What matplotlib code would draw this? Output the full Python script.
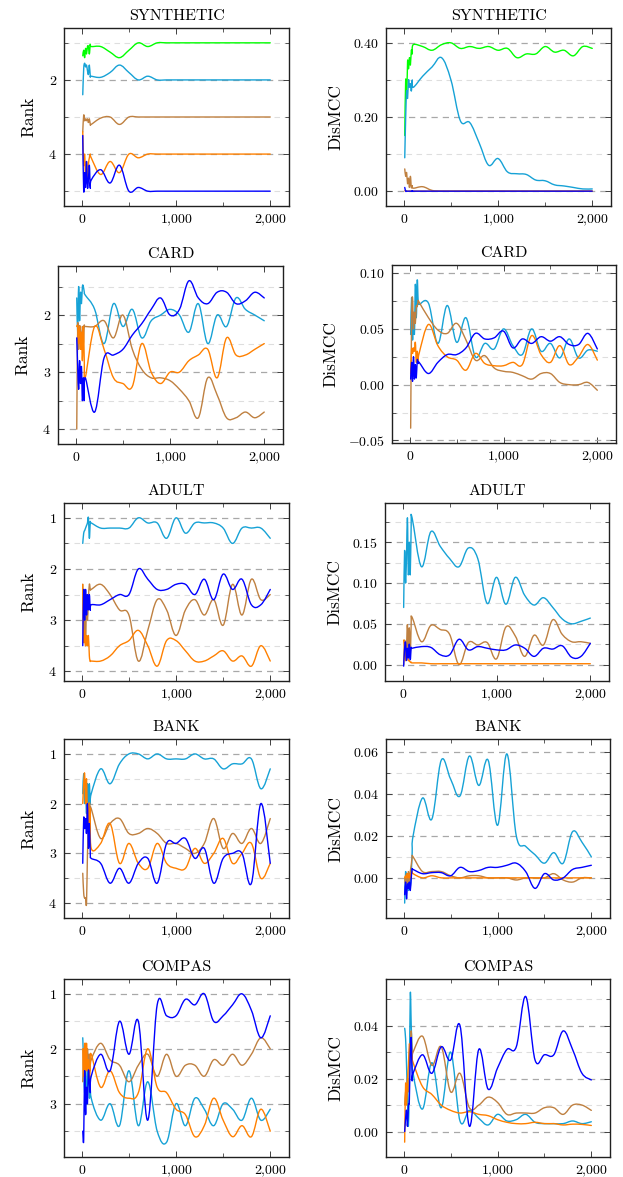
import matplotlib
matplotlib.use("Agg")
import matplotlib.pyplot as plt
import numpy as np
from matplotlib.path import Path
from matplotlib.patches import PathPatch
from matplotlib.ticker import MultipleLocator, FuncFormatter

plt.rcParams['font.family'] = 'cmr10'
plt.rcParams['mathtext.fontset'] = 'cm'
plt.rcParams['axes.formatter.use_mathtext'] = True

# x positions: every 10 up to 100, then every 100 up to 2000
steps = [10, 20, 30, 40, 50, 60, 70, 80, 90, 100, 200, 300, 400, 500, 600, 700, 800, 900, 1000,
         1100, 1200, 1300, 1400, 1500, 1600, 1700, 1800, 1900, 2000]

datasets = ["SYNTHETIC", "CARD", "ADULT", "BANK", "COMPAS"]

# ---- SYNTHETIC ----
syn_rank_green = [1.35, 1.2, 1.4, 1.15, 1.3, 1.1, 1.1, 1.3, 1.05, 1.1, 1.1, 1.25, 1.4, 1.2, 1.0, 1.1, 1.0, 1.0, 1.0,
                  1.0, 1.0, 1.0, 1.0, 1.0, 1.0, 1.0, 1.0, 1.0, 1.0]
syn_rank_cyan = [2.4, 1.7, 1.55, 1.65, 1.6, 1.75, 1.85, 1.6, 1.9, 1.9, 1.93, 1.8, 1.6, 1.8, 2.0, 1.9, 2.0, 2.0, 2.0,
                 2.0, 2.0, 2.0, 2.0, 2.0, 2.0, 2.0, 2.0, 2.0, 2.0]
syn_rank_brown = [3.4, 2.95, 3.1, 3.05, 3.1, 3.05, 3.15, 3.05, 3.2, 3.2, 3.03, 3.0, 3.2, 3.0, 3.0, 3.0, 3.0, 3.0, 3.0,
                  3.0, 3.0, 3.0, 3.0, 3.0, 3.0, 3.0, 3.0, 3.0, 3.0]
syn_rank_orange = [3.4, 4.3, 4.0, 4.6, 4.2, 4.8, 4.3, 4.1, 4.0, 4.1, 4.55, 4.2, 4.5, 4.0, 4.1, 4.0, 4.0, 4.0, 4.0,
                   4.0, 4.0, 4.0, 4.0, 4.0, 4.0, 4.0, 4.0, 4.0, 4.0]
syn_rank_blue = [3.5, 5.0, 4.5, 4.9, 4.2, 4.9, 4.7, 4.3, 4.9, 4.7, 4.42, 4.78, 4.3, 5.0, 4.9, 5.0, 5.0, 5.0, 5.0,
                 5.0, 5.0, 5.0, 5.0, 5.0, 5.0, 5.0, 5.0, 5.0, 5.0]

syn_mcc_green = [0.15, 0.30, 0.25, 0.35, 0.33, 0.36, 0.34, 0.38, 0.37, 0.395, 0.39, 0.38, 0.395, 0.40, 0.385, 0.39,
                 0.385, 0.39, 0.38, 0.385, 0.36, 0.37, 0.37, 0.39, 0.375, 0.38, 0.365, 0.39, 0.385]
syn_mcc_cyan = [0.09, 0.20, 0.27, 0.25, 0.30, 0.28, 0.29, 0.27, 0.30, 0.28, 0.31, 0.335, 0.36, 0.30, 0.19, 0.185,
                0.13, 0.07, 0.088, 0.052, 0.047, 0.045, 0.03, 0.028, 0.017, 0.014, 0.01, 0.006, 0.006]
syn_mcc_brown = [0.06, 0.04, 0.05, 0.02, 0.035, 0.01, 0.04, 0.01, 0.015, 0.008, 0.012, 0.002, 0.0, 0.0, 0.0, 0.0,
                 0.0, 0.0, 0.0, 0.0, 0.0, 0.0, 0.0, 0.0, 0.0, 0.0, 0.0, 0.0, 0.0]
syn_mcc_orange = [0.001, 0.001, 0.0, 0.0, 0.0, 0.0, 0.0, 0.0, 0.0, 0.0, 0.0, 0.0, 0.0, 0.0, 0.0, 0.0,
                  0.0, 0.0, 0.0, 0.0, 0.0, 0.0, 0.0, 0.0, 0.0, 0.0, 0.0, 0.0, 0.0]
syn_mcc_blue = [0.01, 0.0, 0.0, 0.0, 0.0, 0.0, 0.0, 0.0, 0.0, 0.0, 0.0, 0.0, 0.0, 0.0, 0.0, 0.0,
                0.0, 0.0, 0.0, 0.0, 0.0, 0.0, 0.0, 0.0, 0.0, 0.0, 0.0, 0.0, 0.0]

# ---- CARD ----
card_rank_cyan = [1.7, 2.3, 1.5, 2.1, 1.6, 1.8, 1.5, 1.5, 1.6, 1.65, 1.9, 2.5, 1.8, 2.2, 1.9, 2.4, 2.1, 2.0, 1.9,
                  2.0, 2.3, 1.8, 2.5, 2.0, 2.2, 1.7, 1.9, 2.0, 2.1]
card_rank_brown = [4.0, 2.2, 2.6, 2.2, 2.3, 2.6, 2.2, 2.5, 2.2, 2.2, 2.2, 2.1, 2.4, 2.0, 2.6, 2.95, 3.1, 3.1, 3.15,
                   3.3, 3.5, 3.8, 3.1, 3.4, 3.8, 3.8, 3.7, 3.8, 3.7]
card_rank_orange = [2.2, 2.2, 2.5, 2.2, 2.6, 2.3, 2.8, 2.2, 2.8, 3.1, 2.2, 2.6, 3.1, 3.2, 3.25, 2.5, 3.0, 3.2, 3.0,
                    3.0, 2.8, 2.7, 2.6, 3.1, 2.4, 2.7, 2.7, 2.6, 2.5]
card_rank_blue = [2.4, 2.9, 3.3, 2.8, 3.2, 2.9, 3.5, 3.1, 3.5, 3.1, 3.7, 2.75, 2.7, 2.6, 2.35, 2.15, 1.9, 1.7, 2.0,
                  1.9, 1.4, 1.7, 1.8, 1.6, 1.6, 1.8, 1.75, 1.6, 1.7]

card_mcc_cyan = [0.045, 0.078, 0.04, 0.065, 0.045, 0.09, 0.06, 0.094, 0.075, 0.072, 0.073, 0.037, 0.071, 0.038,
                 0.06, 0.025, 0.037, 0.032, 0.05, 0.035, 0.027, 0.05, 0.03, 0.037, 0.024, 0.041, 0.024, 0.031, 0.03]
card_mcc_brown = [-0.039, 0.06, 0.078, 0.05, 0.065, 0.055, 0.07, 0.07, 0.075, 0.074, 0.06, 0.049, 0.046, 0.055,
                  0.04, 0.022, 0.026, 0.015, 0.012, 0.011, 0.008, 0.005, 0.01, 0.01, 0.002, 0.0, 0.0, 0.002, -0.005]
card_mcc_orange = [0.01, 0.032, 0.028, 0.033, 0.03, 0.038, 0.02, 0.03, 0.02, 0.028, 0.054, 0.035, 0.025, 0.022,
                   0.013, 0.028, 0.019, 0.017, 0.017, 0.02, 0.018, 0.044, 0.027, 0.02, 0.035, 0.018, 0.025, 0.036, 0.022]
card_mcc_blue = [0.005, 0.02, 0.003, 0.025, 0.005, 0.018, 0.006, 0.022, 0.019, 0.02, 0.01, 0.02, 0.027, 0.027,
                 0.033, 0.046, 0.041, 0.042, 0.048, 0.033, 0.041, 0.037, 0.043, 0.039, 0.043, 0.036, 0.036, 0.046, 0.032]

# ---- ADULT ----
adult_rank_cyan = [1.5, 1.3, 1.25, 1.2, 1.15, 1.1, 1.0, 1.4, 1.1, 1.1, 1.2, 1.2, 1.2, 1.2, 1.0, 1.1, 1.1, 1.4, 1.0,
                   1.3, 1.1, 1.1, 1.1, 1.2, 1.5, 1.2, 1.2, 1.2, 1.4]
adult_rank_brown = [2.3, 3.3, 2.4, 3.5, 2.5, 3.0, 2.6, 2.3, 2.4, 2.4, 2.3, 2.5, 2.8, 2.9, 3.8, 3.2, 2.6, 2.8, 3.3,
                    2.8, 2.6, 2.9, 2.6, 3.1, 2.3, 2.9, 2.2, 2.6, 2.5]
adult_rank_orange = [2.3, 3.4, 3.2, 3.5, 3.3, 3.5, 3.3, 3.7, 3.8, 3.8, 3.8, 3.7, 3.5, 3.4, 3.2, 3.5, 3.9, 3.4, 3.4,
                     3.6, 3.8, 3.8, 3.7, 3.6, 3.8, 3.7, 3.9, 3.5, 3.8]
adult_rank_blue = [3.5, 2.4, 3.0, 2.4, 2.9, 2.5, 2.8, 2.5, 2.8, 2.7, 2.7, 2.6, 2.5, 2.5, 2.0, 2.2, 2.4, 2.4, 2.3,
                   2.3, 2.5, 2.2, 2.6, 2.1, 2.4, 2.2, 2.7, 2.7, 2.4]

adult_mcc_cyan = [0.07, 0.14, 0.10, 0.13, 0.18, 0.11, 0.15, 0.11, 0.17, 0.18, 0.12, 0.163, 0.145, 0.13, 0.12, 0.143,
                  0.13, 0.075, 0.107, 0.074, 0.107, 0.085, 0.073, 0.082, 0.07, 0.056, 0.05, 0.053, 0.057]
adult_mcc_brown = [0.0, 0.03, 0.01, 0.02, 0.049, 0.01, 0.045, 0.01, 0.05, 0.058, 0.028, 0.048, 0.043, 0.037, 0.0,
                   0.027, 0.024, 0.027, 0.007, 0.046, 0.035, 0.01, 0.036, 0.024, 0.055, 0.037, 0.028, 0.028, 0.026]
adult_mcc_orange = [0.03, 0.02, 0.005, 0.01, 0.01, 0.005, 0.005, 0.003, 0.003, 0.002, 0.002, 0.001, 0.001, 0.001,
                    0.001, 0.001, 0.001, 0.001, 0.001, 0.001, 0.001, 0.001, 0.001, 0.001, 0.001, 0.001, 0.001, 0.001, 0.001]
adult_mcc_blue = [-0.002, 0.02, 0.027, 0.005, 0.02, 0.008, 0.025, 0.006, 0.02, 0.02, 0.022, 0.021, 0.012, 0.012,
                  0.031, 0.018, 0.022, 0.02, 0.018, 0.018, 0.024, 0.02, 0.01, 0.02, 0.019, 0.023, 0.009, 0.01, 0.026]

# ---- BANK ----
bank_rank_cyan = [1.8, 1.4, 2.0, 1.7, 2.2, 1.6, 2.0, 1.6, 2.0, 1.8, 1.3, 1.6, 1.2, 1.0, 1.0, 1.1, 1.0, 1.1, 1.1,
                  1.1, 1.0, 1.1, 1.1, 1.3, 1.2, 1.2, 1.1, 1.7, 1.3]
bank_rank_brown = [3.4, 3.8, 3.9, 3.9, 4.0, 3.0, 2.5, 2.0, 2.1, 2.1, 2.7, 2.4, 2.3, 2.6, 2.6, 2.5, 2.6, 2.8, 2.8,
                   2.9, 3.0, 2.8, 2.3, 2.9, 2.6, 2.8, 2.5, 2.8, 2.3]
bank_rank_orange = [2.0, 1.6, 1.4, 2.0, 1.5, 2.3, 2.0, 2.8, 2.1, 2.9, 2.8, 2.4, 3.2, 2.8, 3.2, 3.3, 2.8, 3.2, 3.3,
                    3.3, 2.9, 3.2, 3.0, 2.7, 3.2, 3.0, 2.8, 3.5, 3.2]
bank_rank_blue = [3.2, 2.3, 2.5, 2.3, 2.6, 2.0, 2.9, 2.4, 3.0, 3.1, 3.2, 3.6, 3.3, 3.6, 3.2, 3.1, 3.6, 2.8, 2.8,
                  2.7, 3.1, 2.9, 3.6, 3.1, 3.0, 3.0, 3.6, 2.0, 3.2]

bank_mcc_cyan = [-0.012, 0.003, -0.005, 0.002, -0.006, 0.0, -0.004, 0.002, 0.012, 0.02, 0.038, 0.028, 0.056, 0.047,
                 0.039, 0.058, 0.044, 0.056, 0.025, 0.059, 0.02, 0.015, 0.011, 0.007, 0.012, 0.007, 0.022, 0.017, 0.01]
bank_mcc_brown = [0.0, -0.003, 0.002, -0.004, 0.003, -0.002, 0.003, 0.006, 0.01, 0.01, 0.003, 0.003, 0.003, 0.001,
                  0.0, 0.001, 0.001, 0.0, 0.0, 0.0, -0.001, 0.0, 0.0, 0.0, 0.002, -0.001, -0.002, 0.0, 0.0]
bank_mcc_orange = [0.0, 0.001, 0.0, 0.002, 0.0, 0.002, 0.0, 0.002, 0.003, 0.002, 0.0, 0.001, 0.0, 0.0, 0.0, 0.0,
                   0.0, 0.0, 0.0, 0.0, 0.0, 0.0, 0.0, 0.0, 0.0, 0.0, 0.0, 0.0, 0.0]
bank_mcc_blue = [-0.008, -0.002, -0.01, -0.003, -0.005, -0.002, -0.006, 0.0, 0.004, 0.004, 0.002, 0.0025, 0.0025,
                 0.001, 0.005, 0.003, 0.0035, 0.005, 0.005, 0.006, 0.007, 0.003, -0.005, 0.002, -0.001, 0.0, 0.004,
                 0.005, 0.006]

# ---- COMPAS ----
compas_rank_cyan = [1.8, 2.3, 2.8, 2.1, 3.0, 2.6, 2.1, 2.9, 2.5, 2.9, 3.3, 3.0, 3.4, 2.4, 3.4, 2.6, 3.5, 3.7, 3.0,
                    3.4, 2.9, 3.1, 3.4, 3.0, 3.1, 3.3, 2.9, 3.3, 3.1]
compas_rank_brown = [2.6, 2.0, 2.5, 1.9, 2.4, 2.0, 2.3, 2.1, 2.4, 2.2, 1.9, 2.2, 2.3, 2.6, 2.3, 2.1, 2.5, 2.1, 2.5,
                     2.3, 2.3, 2.5, 2.2, 2.3, 2.1, 2.3, 2.1, 1.8, 2.0]
compas_rank_orange = [2.0, 2.5, 1.9, 2.4, 1.9, 2.4, 2.2, 2.6, 2.3, 2.1, 2.7, 2.4, 2.8, 2.9, 2.8, 2.0, 2.7, 2.8, 3.1,
                      3.2, 3.6, 3.4, 2.9, 3.3, 3.6, 3.4, 3.6, 3.1, 3.5]
compas_rank_blue = [3.5, 3.65, 2.4, 3.2, 2.7, 3.0, 2.4, 2.6, 2.8, 2.5, 2.1, 2.4, 1.5, 2.1, 1.5, 3.3, 1.2, 1.4, 1.4,
                    1.1, 1.2, 1.0, 1.5, 1.4, 1.2, 1.0, 1.3, 1.8, 1.4]

compas_mcc_cyan = [0.039, 0.035, 0.025, 0.012, 0.002, 0.02, 0.052, 0.04, 0.03, 0.022, 0.0085, 0.026, 0.009, 0.030,
                   0.004, 0.008, 0.005, 0.0025, 0.0065, 0.004, 0.0045, 0.0065, 0.0035, 0.003, 0.003, 0.003, 0.004,
                   0.003, 0.0037]
compas_mcc_brown = [0.01, 0.015, 0.012, 0.02, 0.015, 0.025, 0.03, 0.038, 0.028, 0.03, 0.036, 0.025, 0.032, 0.015,
                    0.022, 0.009, 0.01, 0.013, 0.011, 0.0065, 0.007, 0.007, 0.007, 0.009, 0.009, 0.0065, 0.01, 0.01,
                    0.008]
compas_mcc_orange = [-0.004, 0.018, 0.01, 0.02, 0.025, 0.033, 0.03, 0.028, 0.028, 0.026, 0.017, 0.014, 0.01, 0.008,
                     0.007, 0.0075, 0.0065, 0.006, 0.0045, 0.0035, 0.003, 0.003, 0.0035, 0.003, 0.003, 0.0025, 0.0028,
                     0.0027, 0.0023]
compas_mcc_blue = [0.0, 0.005, 0.008, 0.002, 0.01, 0.012, 0.03, 0.035, 0.02, 0.022, 0.029, 0.022, 0.032, 0.027, 0.04,
                   0.002, 0.031, 0.016, 0.024, 0.031, 0.032, 0.051, 0.027, 0.029, 0.029, 0.038, 0.031, 0.022, 0.0195]

GREEN = "#00ff00"
CYAN = "#16a2d6"
BROWN = "#bf8040"
ORANGE = "#ff8000"
BLUE = "#0000ff"

rank_series = [
    [(syn_rank_green, GREEN), (syn_rank_cyan, CYAN), (syn_rank_brown, BROWN), (syn_rank_orange, ORANGE), (syn_rank_blue, BLUE)],
    [(card_rank_cyan, CYAN), (card_rank_brown, BROWN), (card_rank_orange, ORANGE), (card_rank_blue, BLUE)],
    [(adult_rank_cyan, CYAN), (adult_rank_brown, BROWN), (adult_rank_orange, ORANGE), (adult_rank_blue, BLUE)],
    [(bank_rank_cyan, CYAN), (bank_rank_brown, BROWN), (bank_rank_orange, ORANGE), (bank_rank_blue, BLUE)],
    [(compas_rank_cyan, CYAN), (compas_rank_brown, BROWN), (compas_rank_orange, ORANGE), (compas_rank_blue, BLUE)],
]
mcc_series = [
    [(syn_mcc_green, GREEN), (syn_mcc_cyan, CYAN), (syn_mcc_brown, BROWN), (syn_mcc_orange, ORANGE), (syn_mcc_blue, BLUE)],
    [(card_mcc_cyan, CYAN), (card_mcc_brown, BROWN), (card_mcc_orange, ORANGE), (card_mcc_blue, BLUE)],
    [(adult_mcc_cyan, CYAN), (adult_mcc_brown, BROWN), (adult_mcc_orange, ORANGE), (adult_mcc_blue, BLUE)],
    [(bank_mcc_cyan, CYAN), (bank_mcc_brown, BROWN), (bank_mcc_orange, ORANGE), (bank_mcc_blue, BLUE)],
    [(compas_mcc_cyan, CYAN), (compas_mcc_brown, BROWN), (compas_mcc_orange, ORANGE), (compas_mcc_blue, BLUE)],
]
rank_steps = [2, 1, 1, 1, 1]
mcc_steps = [0.2, 0.05, 0.05, 0.02, 0.02]

# axes boxes in pixels: left, top, width, height
W, H = 623, 1177
left_boxes = [(64, 28, 225, 178), (58, 266, 225, 178), (64, 503, 225, 178), (64, 739, 225, 179), (64, 979, 225, 178)]
right_boxes = [(386, 28, 225, 178), (392, 265, 224, 178), (385, 503, 224, 178), (386, 739, 224, 179), (386, 979, 224, 178)]


def smooth_path(x, y, tension=0.18):
    # bezier through the points, like tikz "smooth"
    x = np.asarray(x, float)
    y = np.asarray(y, float)
    n = len(x)
    verts = [(x[0], y[0])]
    codes = [Path.MOVETO]
    for i in range(n - 1):
        xp, yp = (x[i - 1], y[i - 1]) if i > 0 else (x[i], y[i])
        xn, yn = (x[i + 2], y[i + 2]) if i + 2 < n else (x[i + 1], y[i + 1])
        c1 = (x[i] + tension * (x[i + 1] - xp), y[i] + tension * (y[i + 1] - yp))
        c2 = (x[i + 1] - tension * (xn - x[i]), y[i + 1] - tension * (yn - y[i]))
        verts += [c1, c2, (x[i + 1], y[i + 1])]
        codes += [Path.CURVE4] * 3
    return Path(verts, codes)


def style_axes(ax, series, step, fmt, invert):
    for vals, col in series:
        ax.add_patch(PathPatch(smooth_path(steps, vals), fill=False, edgecolor=col, lw=1.0,
                               transform=ax.transData, capstyle='round', joinstyle='round'))
    allv = np.concatenate([np.asarray(v, float) for v, _ in series])
    lo, hi = allv.min(), allv.max()
    pad = 0.1 * (hi - lo)
    xpad = 0.1 * (steps[-1] - steps[0])
    ax.set_xlim(steps[0] - xpad, steps[-1] + xpad)
    if invert:
        ax.set_ylim(hi + pad, lo - pad)
    else:
        ax.set_ylim(lo - pad, hi + pad)
    ax.xaxis.set_major_locator(MultipleLocator(1000))
    ax.xaxis.set_minor_locator(MultipleLocator(500))
    ax.yaxis.set_major_locator(MultipleLocator(step))
    ax.yaxis.set_minor_locator(MultipleLocator(step / 2))
    ax.xaxis.set_major_formatter(FuncFormatter(lambda v, p: "$" + f"{v:,.0f}".replace(",", "{,}") + "$"))
    ax.yaxis.set_major_formatter(FuncFormatter(fmt))
    ax.grid(which='major', axis='y', color='#a8a8a8', ls=(0, (5, 4)), lw=0.9)
    ax.grid(which='minor', axis='y', color='#dedede', ls=(0, (5, 4)), lw=0.8)
    ax.set_axisbelow(True)
    ax.tick_params(which='both', direction='in', top=True, right=True, labelsize=10, color='#404040', pad=5)
    ax.tick_params(which='major', length=4.5, width=0.7)
    ax.tick_params(which='minor', length=3, width=0.6)
    for s in ax.spines.values():
        s.set_linewidth(1.0)
        s.set_color('#202020')


fig = plt.figure(figsize=(W / 100, H / 100), dpi=100)

for r in range(5):
    for boxes, series, col in ((left_boxes, rank_series, 0), (right_boxes, mcc_series, 1)):
        l, t, w, h = boxes[r]
        ax = fig.add_axes([l / W, 1 - (t + h) / H, w / W, h / H])
        if col == 0:
            style_axes(ax, series[r], rank_steps[r], lambda v, p: f"${v:.0f}$", True)
            ax.set_ylabel("Rank", fontsize=12.5, labelpad=9)
        else:
            style_axes(ax, series[r], mcc_steps[r], lambda v, p: f"${v:.2f}$", False)
            ax.set_ylabel("DisMCC", fontsize=12.5, labelpad=7)
        ax.set_title(datasets[r], fontsize=11.5, pad=6)

fig.savefig("out.png", dpi=100)
